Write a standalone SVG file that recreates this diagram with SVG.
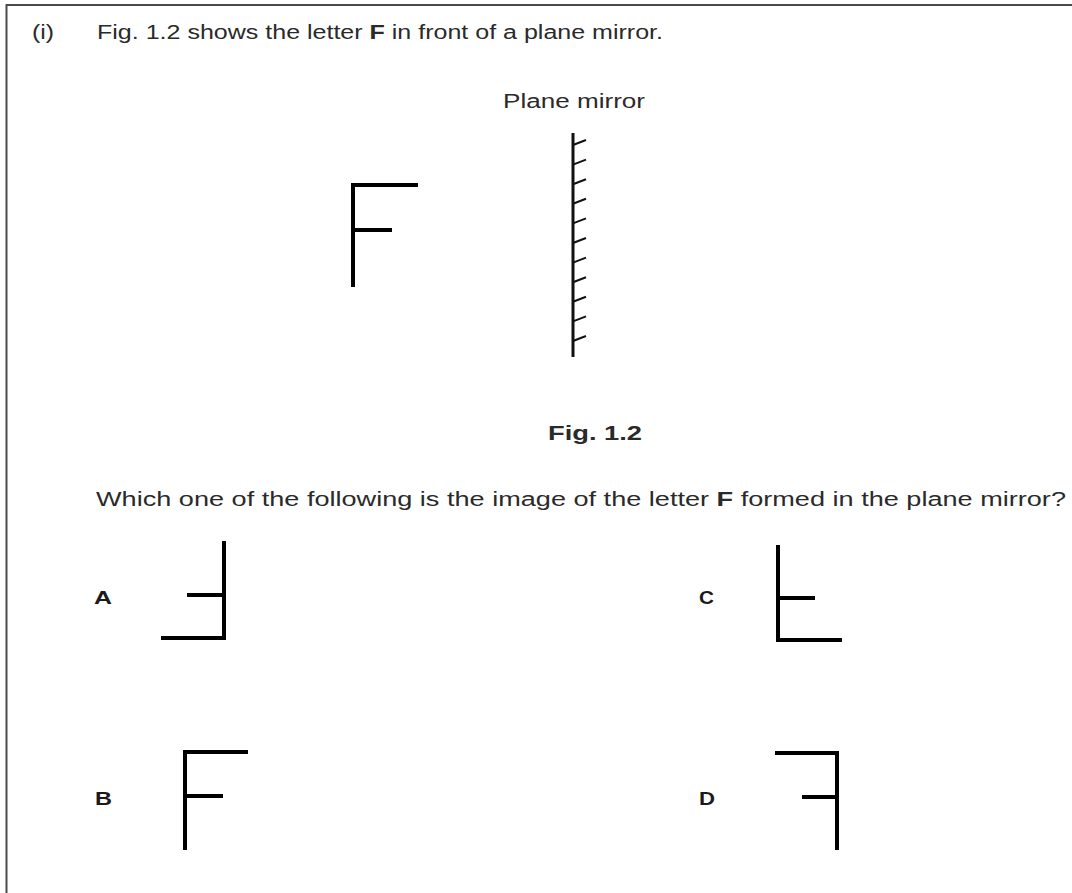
<svg xmlns="http://www.w3.org/2000/svg" width="1072" height="893" viewBox="0 0 1072 893">
  <style>
    .txt { font-family: "Liberation Sans", Arial, sans-serif; font-size: 20px; fill: #2a2a2a; }
    .bold { font-weight: bold; }
    .opt { font-family: "Liberation Sans", Arial, sans-serif; font-size: 19px; font-weight: bold; fill: #1a1a1a; }
    .glyph { fill: none; stroke: #000; stroke-width: 4; stroke-linecap: butt; stroke-linejoin: miter; }
    .mirror { fill: none; stroke: #111; stroke-width: 3; }
    .tick { fill: none; stroke: #111; stroke-width: 2; }
    .frame { fill: none; stroke: #4a4a4a; stroke-width: 2; }
  </style>
  <rect x="0" y="0" width="1072" height="893" fill="#fff"/>
  <g id="frame">
    <line class="frame" x1="6.5" y1="5" x2="1072" y2="5"/>
    <line class="frame" x1="6.5" y1="4" x2="6.5" y2="893"/>
  </g>

  <g id="question-text">
    <text class="txt" x="32" y="39" textLength="22" lengthAdjust="spacingAndGlyphs">(i)</text>
    <text class="txt" x="97" y="39" textLength="566" lengthAdjust="spacingAndGlyphs">Fig. 1.2 shows the letter <tspan class="bold">F</tspan> in front of a plane mirror.</text>
  </g>

  <g id="figure">
    <g id="letter-F">
      <path class="glyph" d="M353,287 V185 H418 M353,230 H392"/>
    </g>
    <g id="plane-mirror">
      <text class="txt" x="503" y="108" textLength="142" lengthAdjust="spacingAndGlyphs">Plane mirror</text>
      <line class="mirror" x1="573" y1="133" x2="573" y2="357"/>
      <path class="tick" d="M573,145 l13,-5 M573,164.6 l13,-5 M573,184.2 l13,-5 M573,203.8 l13,-5 M573,223.4 l13,-5 M573,243 l13,-5 M573,262.6 l13,-5 M573,282.2 l13,-5 M573,301.8 l13,-5 M573,321.4 l13,-5 M573,341 l13,-5"/>
    </g>
    <text class="txt bold" x="548" y="440" textLength="94" lengthAdjust="spacingAndGlyphs">Fig. 1.2</text>
  </g>

  <g id="question">
    <text class="txt" x="96" y="506" textLength="970" lengthAdjust="spacingAndGlyphs">Which one of the following is the image of the letter <tspan class="bold">F</tspan> formed in the plane mirror?</text>
  </g>

  <g id="option-A">
    <text class="opt" x="94" y="604" textLength="18" lengthAdjust="spacingAndGlyphs">A</text>
    <path class="glyph" d="M224,541 V638 H161 M224,595 H187"/>
  </g>
  <g id="option-B">
    <text class="opt" x="95" y="805" textLength="17" lengthAdjust="spacingAndGlyphs">B</text>
    <path class="glyph" d="M185,850 V752 H248 M185,796 H223"/>
  </g>
  <g id="option-C">
    <text class="opt" x="699" y="604" textLength="15" lengthAdjust="spacingAndGlyphs">C</text>
    <path class="glyph" d="M778,545 V640 H842 M778,598 H815"/>
  </g>
  <g id="option-D">
    <text class="opt" x="699" y="805" textLength="16" lengthAdjust="spacingAndGlyphs">D</text>
    <path class="glyph" d="M837,850 V753 H775 M837,797 H802"/>
  </g>
</svg>
